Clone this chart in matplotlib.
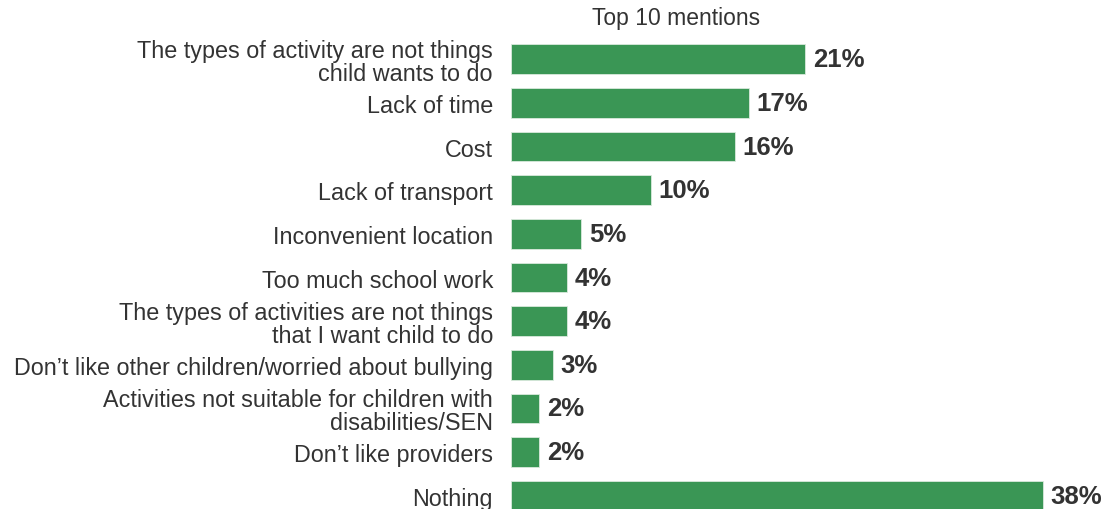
import matplotlib.pyplot as plt

plt.rcParams['font.family'] = ['Liberation Sans', 'DejaVu Sans']

categories = [
    "The types of activity are not things\nchild wants to do",
    "Lack of time",
    "Cost",
    "Lack of transport",
    "Inconvenient location",
    "Too much school work",
    "The types of activities are not things\nthat I want child to do",
    "Don\u2019t like other children/worried about bullying",
    "Activities not suitable for children with\ndisabilities/SEN",
    "Don\u2019t like providers",
    "Nothing",
]
values = [21, 17, 16, 10, 5, 4, 4, 3, 2, 2, 38]

bar_color = "#3a9655"
text_color = "#333333"

fig = plt.figure(figsize=(11.12, 5.10), dpi=100)
# 11 rows of ~43.6 px, the last one running past the bottom edge
ax = fig.add_axes([511 / 1112, -8.5 / 510, 560 / 1112, 480 / 510])

ypos = list(range(len(values)))
ax.barh(ypos, values, height=0.68, color=bar_color, edgecolor="#d9eadd", linewidth=0.6)
ax.set_xlim(0, 40)
ax.set_ylim(len(values) - 0.5, -0.5)

for y, v in zip(ypos, values):
    ax.text(v + 0.55, y, f"{v}%", va="center", ha="left", fontsize=18.5,
            fontweight="bold", color=text_color)

ax.set_yticks(ypos)
ax.set_yticklabels(categories, fontsize=16.8, color=text_color, linespacing=1.0)
ax.tick_params(axis="y", length=0, pad=13)
ax.set_xticks([])
for s in ax.spines.values():
    s.set_visible(False)

fig.text(676 / 1112, 1 - 18 / 510, "Top 10 mentions", ha="center", va="center",
         fontsize=16.5, color=text_color)

fig.savefig("out.png", dpi=100)
plt.close(fig)
